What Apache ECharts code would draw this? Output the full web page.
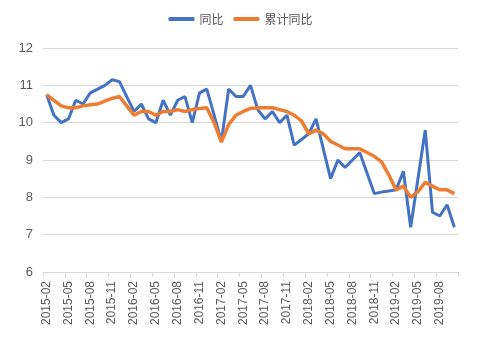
<!DOCTYPE html>
<html>
<head>
<meta charset="utf-8">
<script src="https://cdn.jsdelivr.net/npm/echarts@6/dist/echarts.min.js"></script>
<style>
html,body{margin:0;padding:0;background:#fff;}
#chart{width:481px;height:337px;}
</style>
</head>
<body>
<div id="chart"></div>
<script>
// Categories: monthly 2015-02 .. 2019-10
const categories = [
  '2015-02','2015-03','2015-04','2015-05','2015-06','2015-07','2015-08','2015-09','2015-10','2015-11','2015-12',
  '2016-01','2016-02','2016-03','2016-04','2016-05','2016-06','2016-07','2016-08','2016-09','2016-10','2016-11','2016-12',
  '2017-01','2017-02','2017-03','2017-04','2017-05','2017-06','2017-07','2017-08','2017-09','2017-10','2017-11','2017-12',
  '2018-01','2018-02','2018-03','2018-04','2018-05','2018-06','2018-07','2018-08','2018-09','2018-10','2018-11','2018-12',
  '2019-01','2019-02','2019-03','2019-04','2019-05','2019-06','2019-07','2019-08','2019-09','2019-10'
];
const seriesNames = ['同比', '累计同比'];
// 同比
const yoy = [
  10.75,10.2,10.0,10.1,10.6,10.5,10.8,10.9,11.0,11.15,11.1,
  10.7,10.3,10.5,10.1,10.0,10.6,10.2,10.6,10.7,10.0,10.8,10.9,
  10.2,9.5,10.9,10.7,10.7,11.0,10.35,10.1,10.3,10.0,10.2,9.4,
  9.55,9.7,10.1,9.3,8.5,9.0,8.8,9.0,9.2,8.65,8.1,8.14,
  8.17,8.2,8.7,7.2,8.5,9.8,7.6,7.5,7.8,7.2
];
// 累计同比
const ytd = [
  10.75,10.6,10.45,10.4,10.4,10.45,10.48,10.5,10.58,10.65,10.7,
  10.45,10.2,10.3,10.3,10.2,10.3,10.3,10.35,10.3,10.35,10.38,10.4,
  10.0,9.48,9.95,10.2,10.3,10.38,10.4,10.4,10.4,10.35,10.3,10.2,
  10.05,9.7,9.8,9.7,9.5,9.4,9.3,9.3,9.3,9.2,9.1,8.95,
  8.6,8.2,8.3,8.0,8.15,8.4,8.3,8.2,8.2,8.1
];
const yTicks = { min: 6, max: 12, interval: 1 };

const textColor = '#595959';
const font = '"Liberation Sans", "Noto Sans CJK SC", sans-serif';
const chart = echarts.init(document.getElementById('chart'), null, {renderer: 'canvas'});
chart.setOption({
  animation: false,
  color: ['#4472C4', '#ED7D31'],
  legend: {
    top: 8,
    left: 'center',
    icon: 'roundRect',
    itemWidth: 26,
    itemHeight: 4,
    itemGap: 10,
    textStyle: { color: textColor, fontSize: 12, fontFamily: '"Noto Sans CJK SC", sans-serif' },
    data: seriesNames
  },
  grid: { left: 43, right: 23, top: 48, bottom: 65 },
  xAxis: {
    type: 'category',
    data: categories,
    boundaryGap: true,
    axisLine: { lineStyle: { color: '#D9D9D9' } },
    axisTick: { show: true, interval: 2, length: 5, lineStyle: { color: '#D9D9D9' } },
    axisLabel: { interval: 2, rotate: 90, color: textColor, fontSize: 12, fontFamily: font, margin: 9 }
  },
  yAxis: {
    type: 'value',
    min: yTicks.min, max: yTicks.max, interval: yTicks.interval,
    axisLine: { show: false },
    axisTick: { show: false },
    splitLine: { lineStyle: { color: '#D9D9D9' } },
    axisLabel: { color: textColor, fontSize: 13, fontFamily: font, margin: 10 }
  },
  series: [
    { name: seriesNames[0], type: 'line', data: yoy, symbol: 'none', lineStyle: { width: 3 } },
    { name: seriesNames[1], type: 'line', data: ytd, symbol: 'none', lineStyle: { width: 3.5 } }
  ]
});
</script>
</body>
</html>
